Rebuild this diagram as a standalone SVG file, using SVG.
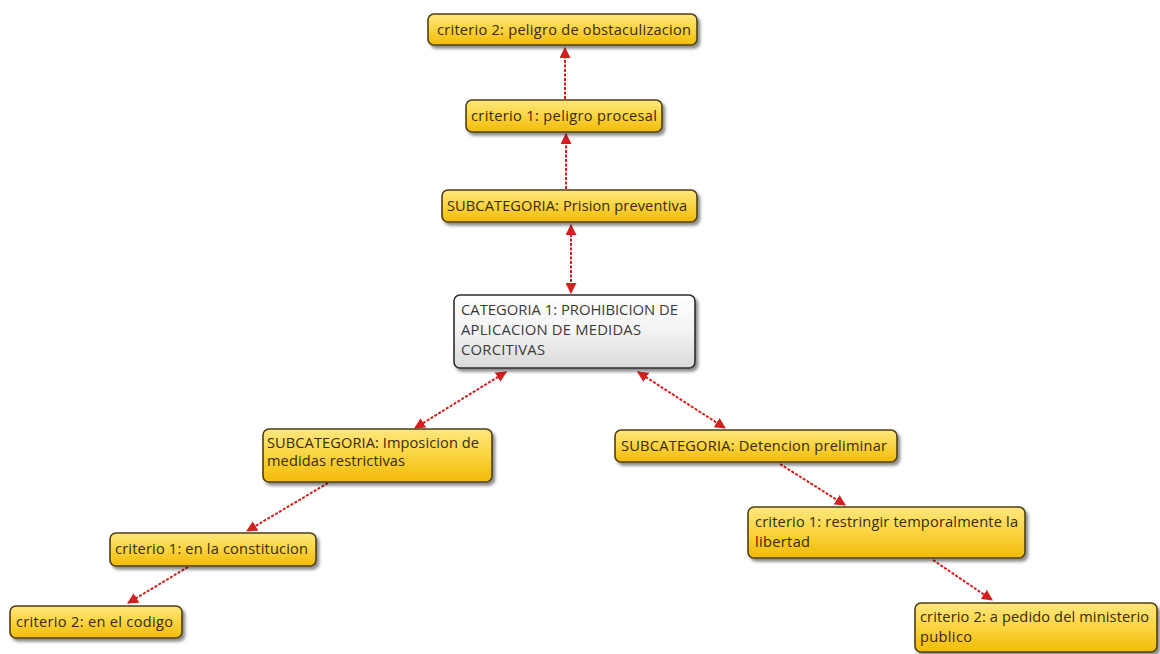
<svg xmlns="http://www.w3.org/2000/svg" width="1160" height="654" viewBox="0 0 1160 654">
<defs>
<linearGradient id="gy" x1="0" y1="0" x2="0" y2="1">
<stop offset="0" stop-color="#fde77e"/>
<stop offset="0.45" stop-color="#fbd646"/>
<stop offset="1" stop-color="#f2bb06"/>
</linearGradient>
<linearGradient id="gw" x1="0" y1="0" x2="0" y2="1">
<stop offset="0" stop-color="#ffffff"/>
<stop offset="0.5" stop-color="#f3f3f3"/>
<stop offset="1" stop-color="#d9d9d9"/>
</linearGradient>
<filter id="sh" x="-10%" y="-20%" width="130%" height="160%">
<feDropShadow dx="2.5" dy="3" stdDeviation="1.5" flood-color="#000" flood-opacity="0.45"/>
</filter>
<marker id="ar" viewBox="0 0 10 10" refX="9" refY="5" markerWidth="5.5" markerHeight="5.5" orient="auto-start-reverse" markerUnits="strokeWidth">
<path d="M0,0 L10,5 L0,10 z" fill="#d41f1f"/>
</marker>
<style>
.y{fill:url(#gy);stroke:#4d3f15;stroke-width:1.6;filter:url(#sh)}
.w{fill:url(#gw);stroke:#2e2e2e;stroke-width:1.6;filter:url(#sh)}
.t{font-family:"Open Sans","Noto Sans",sans-serif;font-size:14.6px;fill:#3a2a0a}
.tc{font-family:"Open Sans","Noto Sans",sans-serif;font-size:14.8px;fill:#3a3a3a}
.c{fill:none;stroke:#d41f1f;stroke-width:2;stroke-dasharray:3 1.5}
</style>
</defs>
<g id="connectors">
<line class="c" x1="565" y1="99" x2="565" y2="48" marker-end="url(#ar)"/>
<line class="c" x1="566" y1="189" x2="566" y2="134" marker-end="url(#ar)"/>
<line class="c" x1="571" y1="225" x2="571" y2="293" marker-start="url(#ar)" marker-end="url(#ar)"/>
<line class="c" x1="506" y1="372" x2="415" y2="428" marker-start="url(#ar)" marker-end="url(#ar)"/>
<line class="c" x1="638" y1="372" x2="725" y2="428" marker-start="url(#ar)" marker-end="url(#ar)"/>
<line class="c" x1="328" y1="483" x2="247" y2="531" marker-end="url(#ar)"/>
<line class="c" x1="188" y1="567" x2="128" y2="603" marker-end="url(#ar)"/>
<line class="c" x1="780" y1="464" x2="845" y2="505" marker-end="url(#ar)"/>
<line class="c" x1="933" y1="560" x2="992" y2="600" marker-end="url(#ar)"/>
</g>
<g id="n1"><rect class="y" x="428" y="14" width="269" height="31" rx="6"/><text class="t" x="437" y="35" textLength="254">criterio 2: peligro de obstaculizacion</text></g>
<g id="n2"><rect class="y" x="466" y="100" width="196" height="32" rx="6"/><text class="t" x="471" y="121" textLength="186">criterio 1: peligro procesal</text></g>
<g id="n3"><rect class="y" x="442" y="190" width="255" height="32" rx="6"/><text class="t" x="447" y="211" textLength="240">SUBCATEGORIA: Prision preventiva</text></g>
<g id="center"><rect class="w" x="454" y="295" width="241" height="73" rx="6"/><text class="tc" x="461" y="315" textLength="217">CATEGORIA 1: PROHIBICION DE</text><text class="tc" x="461" y="335" textLength="180">APLICACION DE MEDIDAS</text><text class="tc" x="461" y="355" textLength="84">CORCITIVAS</text></g>
<g id="ls"><rect class="y" x="263" y="429" width="229" height="53" rx="6"/><text class="t" x="267" y="448" textLength="212">SUBCATEGORIA: Imposicion de</text><text class="t" x="267" y="466" textLength="138">medidas restrictivas</text></g>
<g id="rs"><rect class="y" x="615" y="430" width="282" height="32" rx="6"/><text class="t" x="621" y="451" textLength="266">SUBCATEGORIA: Detencion preliminar</text></g>
<g id="lc1"><rect class="y" x="110" y="533" width="206" height="33" rx="6"/><text class="t" x="115" y="554" textLength="193">criterio 1: en la constitucion</text></g>
<g id="lc2"><rect class="y" x="10" y="606" width="172" height="32" rx="6"/><text class="t" x="16" y="627" textLength="157">criterio 2: en el codigo</text></g>
<g id="rc1"><rect class="y" x="748" y="507" width="277" height="51" rx="6"/><text class="t" x="755" y="527" textLength="263">criterio 1: restringir temporalmente la</text><text class="t" x="755" y="547" textLength="55">libertad</text></g>
<g id="rc2"><rect class="y" x="915" y="603" width="242" height="49" rx="6"/><text class="t" x="920" y="622" textLength="229">criterio 2: a pedido del ministerio</text><text class="t" x="920" y="642" textLength="52">publico</text></g>
</svg>
